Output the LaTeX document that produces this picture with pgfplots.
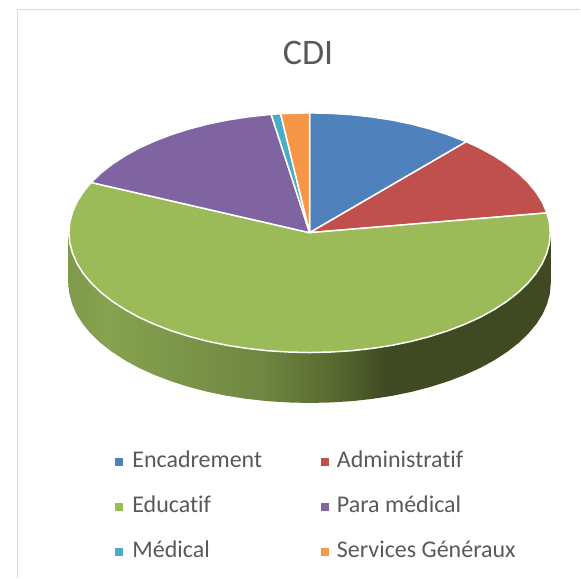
\documentclass[border=0pt]{standalone}
\usepackage{fontspec}
\setmainfont[Ligatures=NoCommon]{Carlito}
\usepackage{pgfplots}
\pgfplotsset{compat=1.18}
\definecolor{cEnc}{HTML}{4F81BD}
\definecolor{cAdm}{HTML}{C0504D}
\definecolor{cEdu}{HTML}{9BBB59}
\definecolor{cPar}{HTML}{8064A2}
\definecolor{cMed}{HTML}{4BACC6}
\definecolor{cSer}{HTML}{F79646}
\definecolor{txt}{HTML}{595959}
\definecolor{frm}{HTML}{D9D9D9}
\definecolor{sA}{HTML}{7F9A4B}
\definecolor{sB}{HTML}{86A34F}
\definecolor{sC}{HTML}{6F8741}
\definecolor{sD}{HTML}{58692F}
\definecolor{sE}{HTML}{404A22}
\pgfdeclarehorizontalshading{sidegrad}{100bp}{
 color(0bp)=(sA); color(25bp)=(sA); color(29bp)=(sB); color(45bp)=(sC);
 color(52.5bp)=(sD); color(58bp)=(sE); color(100bp)=(sE)}
\begin{document}
\begin{tikzpicture}
\begin{axis}[
  scale only axis, width=581pt, height=579pt,
  xmin=-310, xmax=271, ymin=-346, ymax=233,
  hide axis, clip=false,
  title={CDI},
  every axis title shift=0pt,
  title style={at={(0.531,0.9085)}, anchor=center, font=\fontsize{36}{36}\selectfont, text=txt, inner sep=0pt},
  legend columns=2,
  legend cell align=left,
  legend image code/.code={\fill[#1,draw=none] (0pt,-4pt) rectangle (8pt,4pt);},
  legend style={
    at={(axis cs:-194.5,-219)}, anchor=north west,
    draw=none, fill=none, inner sep=0pt, outer sep=0pt,
    font=\fontsize{24}{24}\selectfont, text=txt,
    row sep=24pt,
    nodes={inner sep=0pt, outer sep=0pt, text height=16pt, text depth=5pt},
    /tikz/column 1/.style={column sep=9pt},
    /tikz/column 2/.style={column sep=59pt},
    /tikz/column 3/.style={column sep=8pt},
  },
]
% page extent
\addplot[draw=none, forget plot] coordinates {(-310,-346) (271,233)};
% frame
\addplot[frm, line width=1.5pt, forget plot] coordinates {(-292.5,-346) (-292.5,223.5) (271,223.5)};
% side wall of the pie
\addplot[draw=none, shade, shading=sidegrad, forget plot] coordinates {
(241.5,0)(240.6,-10.5)(237.8,-20.8)(233.3,-31.1)(227,-41)(218.9,-50.7)(209.2,-60)(197.9,-68.8)(185.1,-77.1)(170.9,-84.9)(155.4,-91.9)(138.7,-98.3)(121,-103.9)(102.3,-108.8)(82.9,-112.8)(62.9,-115.9)(42.3,-118.2)(21,-119.5)(0,-120)
(-21,-119.5)(-42.3,-118.2)(-62.9,-115.9)(-82.9,-112.8)(-102.3,-108.8)(-121,-103.9)(-138.7,-98.3)(-155.4,-91.9)(-170.9,-84.9)(-185.1,-77.1)(-197.9,-68.8)(-209.2,-60)(-218.9,-50.7)(-227,-41)(-233.3,-31.1)(-237.8,-20.8)(-240.6,-10.5)(-241.5,0)
(-241.5,-50.5)(-240.6,-61)(-237.8,-71.3)(-233.3,-81.6)(-227,-91.5)(-218.9,-101.2)(-209.2,-110.5)(-197.9,-119.3)(-185.1,-127.6)(-170.9,-135.4)(-155.4,-142.4)(-138.7,-148.8)(-121,-154.4)(-102.3,-159.3)(-82.9,-163.3)(-62.9,-166.4)(-42.3,-168.7)(-21,-170)(0,-170.5)
(21,-170)(42.3,-168.7)(62.9,-166.4)(82.9,-163.3)(102.3,-159.3)(121,-154.4)(138.7,-148.8)(155.4,-142.4)(170.9,-135.4)(185.1,-127.6)(197.9,-119.3)(209.2,-110.5)(218.9,-101.2)(227,-91.5)(233.3,-81.6)(237.8,-71.3)(240.6,-61)(241.5,-50.5)
} -- cycle;
% top surface: one slice per category
\addplot[fill=cEnc, draw=white, line width=1.5pt, line join=round] coordinates {
(0,0)(0,120)(21,119.5)(41.85,118.2)(62.4,115.9)(82.4,112.8)(101.85,108.8)(120.5,103.9)(138.2,98.3)(156.9,91.1)} -- cycle;
\addlegendentry{Encadrement}
\addplot[fill=cAdm, draw=white, line width=1.5pt, line join=round] coordinates {
(0,0)(156.9,91.1)(170.4,84.9)(184.6,77.1)(197.4,68.8)(208.7,60)(218.4,50.7)(226.5,41)(232.8,31.1)(237.7,19.8)} -- cycle;
\addlegendentry{Administratif}
\addplot[fill=cEdu, draw=white, line width=1.5pt, line join=round] coordinates {
(0,0)(237.7,19.8)(240.1,10.5)(241,0)(240.1,-10.5)(237.3,-20.8)(232.8,-31.1)(226.5,-41)(218.4,-50.7)(208.7,-60)(197.4,-68.8)(184.6,-77.1)(170.4,-84.9)(154.9,-91.9)(138.2,-98.3)(120.5,-103.9)(101.85,-108.8)(82.4,-112.8)(62.4,-115.9)(41.85,-118.2)(21,-119.5)(0,-120)
(-21,-119.5)(-41.85,-118.2)(-62.4,-115.9)(-82.4,-112.8)(-101.85,-108.8)(-120.5,-103.9)(-138.2,-98.3)(-154.9,-91.9)(-170.4,-84.9)(-184.6,-77.1)(-197.4,-68.8)(-208.7,-60)(-218.4,-50.7)(-226.5,-41)(-232.8,-31.1)(-237.3,-20.8)(-240.1,-10.5)(-241,0)(-240.1,10.5)(-237.3,20.8)(-232.8,31.1)(-226.5,41)(-218.8,50.3)} -- cycle;
\addlegendentry{Educatif}
\addplot[fill=cPar, draw=white, line width=1.5pt, line join=round] coordinates {
(0,0)(-218.8,50.3)(-208.7,60)(-197.4,68.8)(-184.6,77.1)(-170.4,84.9)(-154.9,91.9)(-138.2,98.3)(-120.5,103.9)(-101.85,108.8)(-82.4,112.8)(-62.4,115.9)(-38.5,118.5)} -- cycle;
\addlegendentry{Para médical}
\addplot[fill=cMed, draw=white, line width=1.5pt, line join=round] coordinates {
(0,0)(-38.5,118.5)(-29,119.1)} -- cycle;
\addlegendentry{Médical}
\addplot[fill=cSer, draw=white, line width=1.5pt, line join=round] coordinates {
(0,0)(-29,119.1)(-21,119.5)(0,120)} -- cycle;
\addlegendentry{Services Généraux}
\end{axis}
\end{tikzpicture}
\end{document}
